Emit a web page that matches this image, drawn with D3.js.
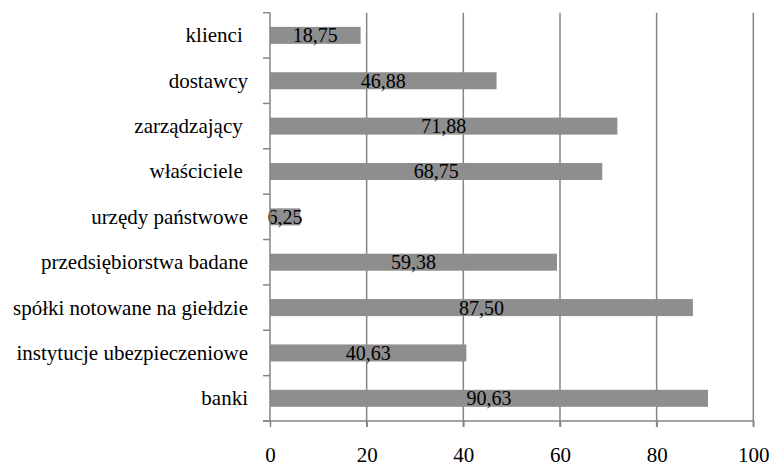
<!DOCTYPE html>
<html><head><meta charset="utf-8">
<script src="https://cdn.jsdelivr.net/npm/d3@7"></script>
<style>body{margin:0;background:#fff}</style>
</head><body><svg id="c" width="772" height="466" style="font-family:'Times New Roman'"></svg>
<script>
const categories = ["klienci ", "dostawcy", "zarządzający ", "właściciele ", "urzędy państwowe", "przedsiębiorstwa badane", "spółki notowane na giełdzie", "instytucje ubezpieczeniowe", "banki"];
const values = [18.75, 46.88, 71.88, 68.75, 6.25, 59.38, 87.50, 40.63, 90.63];
const valueLabels = ["18,75", "46,88", "71,88", "68,75", "6,25", "59,38", "87,50", "40,63", "90,63"];
const xTicks = [0, 20, 40, 60, 80, 100];

const FONT = "Times New Roman";
const svg = d3.select("#c");
const L = 270, R = 753.3, T = 12.7, B = 421;
const x = d3.scaleLinear().domain([0, 100]).range([L, R]);
const y = d3.scaleBand().domain(categories).range([T, B]).paddingInner(0.625).paddingOuter(0.3125);
const grid = "#858585";

// gridlines
svg.append("g").selectAll("line").data(xTicks.slice(1)).join("line")
  .attr("x1", d => x(d)).attr("x2", d => x(d)).attr("y1", T).attr("y2", B + 6)
  .attr("stroke", grid).attr("stroke-width", 1.5);

// bars
svg.append("g").selectAll("rect").data(values).join("rect")
  .attr("x", x(0)).attr("y", (d, i) => y(categories[i]))
  .attr("width", d => x(d) - x(0)).attr("height", y.bandwidth())
  .attr("fill", "#8e8e8e");

// value labels
svg.append("g").selectAll("text").data(values).join("text")
  .attr("x", d => (x(0) + x(d)) / 2).attr("y", (d, i) => y(categories[i]) + y.bandwidth() / 2 + 7)
  .attr("text-anchor", "middle").style("font-family", FONT).style("font-size", "20px")
  .text((d, i) => valueLabels[i]);

// y axis
const yStep = (B - T) / categories.length;
svg.append("line").attr("x1", L).attr("x2", L).attr("y1", T).attr("y2", B).attr("stroke", grid).attr("stroke-width", 1.5);
svg.append("g").selectAll("line").data(d3.range(categories.length + 1)).join("line")
  .attr("x1", L - 7).attr("x2", L).attr("y1", i => T + i * yStep).attr("y2", i => T + i * yStep)
  .attr("stroke", grid).attr("stroke-width", 1.5);
svg.append("g").selectAll("text").data(categories).join("text")
  .attr("x", 248).attr("y", d => y(d) + y.bandwidth() / 2 + 7)
  .attr("text-anchor", "end").style("font-family", FONT).style("font-size", "21px").style("white-space", "pre")
  .text(d => d);

// x axis
const xAxis = d3.axisBottom(x).tickValues(xTicks).tickSize(6).tickFormat(d3.format("d"));
const gx = svg.append("g").attr("transform", `translate(0,${B})`).call(xAxis);
gx.attr("font-family", null).attr("font-size", null);
gx.select(".domain").attr("stroke", grid).attr("stroke-width", 1.5).attr("d", `M${L - 7},0H${R}`);
gx.selectAll(".tick line").attr("stroke", grid).attr("stroke-width", 1.5);
gx.selectAll(".tick text").attr("y", 41).attr("dy", 0).attr("fill", "#000")
  .style("font-family", FONT).style("font-size", "21px");
</script></body></html>
